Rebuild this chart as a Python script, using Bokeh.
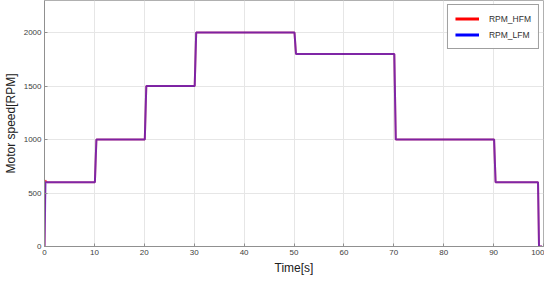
from bokeh.plotting import figure
from bokeh.models import Range1d, Legend, LegendItem, FixedTicker
from bokeh.embed import file_html
from bokeh.resources import INLINE

# Data
time_lfm = [0, 0.2, 10.1, 10.4, 20.1, 20.4, 30.1, 30.4, 50.1, 50.4, 70.1, 70.4, 90.1, 90.4, 98.9, 99.1, 99.7]
rpm_lfm = [0, 600, 600, 1000, 1000, 1500, 1500, 2000, 2000, 1800, 1800, 1000, 1000, 600, 600, 0, 0]
time_hfm = [0, 0.15, 0.3, 0.6, 10.1, 10.4, 20.1, 20.4, 30.1, 30.4, 50.1, 50.4, 70.1, 70.4, 90.1, 90.4, 98.9, 99.1, 99.7]
rpm_hfm = [0, 620, 608, 600, 600, 1000, 1000, 1500, 1500, 2000, 2000, 1800, 1800, 1000, 1000, 600, 600, 0, 0]
x_ticks = [0, 10, 20, 30, 40, 50, 60, 70, 80, 90, 100]
y_ticks = [0, 500, 1000, 1500, 2000]

p = figure(frame_width=499, frame_height=246, output_backend="svg", toolbar_location=None,
           x_range=Range1d(0, 100), y_range=Range1d(0, 2300),
           min_border_left=30, min_border_right=1, min_border_top=0, min_border_bottom=26)
p.outline_line_color = "#b0b0b0"
p.outline_line_width = 1
p.background_fill_color = "white"

r_h = p.line(time_hfm, rpm_hfm, line_color="#ff0000", line_width=2, line_alpha=0.7)
r_l = p.line(time_lfm, rpm_lfm, line_color="#0000ff", line_width=2, line_alpha=0.5)

for ax in (p.xaxis[0], p.yaxis[0]):
    ax.axis_line_color = "#909090"
    ax.major_tick_line_color = "#909090"
    ax.major_tick_in = 3
    ax.major_tick_out = 0
    ax.minor_tick_line_color = None
    ax.major_label_text_font = "Liberation Sans"
    ax.major_label_text_font_size = "8px"
    ax.major_label_text_color = "#404040"
    ax.major_label_standoff = 3
    ax.axis_label_text_font = "Liberation Sans"
    ax.axis_label_text_font_style = "normal"
    ax.axis_label_text_font_size = "12px"
    ax.axis_label_text_color = "#202020"

p.xaxis.ticker = FixedTicker(ticks=x_ticks)
p.yaxis.ticker = FixedTicker(ticks=y_ticks)
p.xaxis.axis_label = "Time[s]"
p.yaxis.axis_label = "Motor speed[RPM]"
p.xaxis.axis_label_standoff = 3
p.yaxis.axis_label_standoff = 3

p.xgrid.ticker = FixedTicker(ticks=x_ticks)
p.ygrid.ticker = FixedTicker(ticks=y_ticks)
p.grid.grid_line_color = "#e6e6e6"
p.grid.grid_line_width = 1

# legend with solid colours (lines placed outside the visible range)
lh = p.line([-20, -10], [-100, -100], line_color="#ff0000", line_width=3)
ll = p.line([-20, -10], [-100, -100], line_color="#0000ff", line_width=3)
legend = Legend(items=[LegendItem(label="RPM_HFM", renderers=[lh]),
                       LegendItem(label="RPM_LFM", renderers=[ll])],
                location="top_right")
legend.label_text_font = "Liberation Sans"
legend.label_text_font_size = "8.5px"
legend.label_text_color = "#303030"
legend.border_line_color = "#404040"
legend.border_line_width = 1
legend.glyph_width = 24
legend.glyph_height = 13
legend.label_height = 13
legend.label_standoff = 10
legend.spacing = 3
legend.padding = 7
legend.margin = 4
p.add_layout(legend)

open("out.html", "w").write(file_html(p, INLINE))
